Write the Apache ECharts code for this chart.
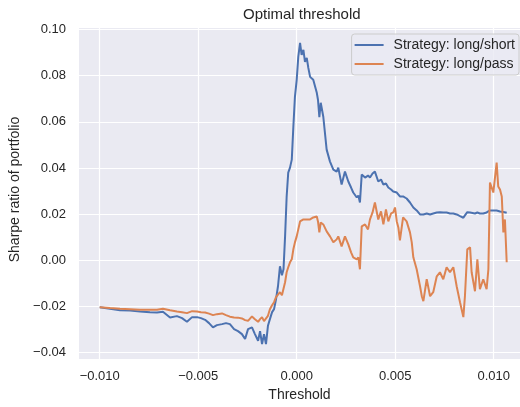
<!DOCTYPE html>
<html>
<head>
<meta charset="utf-8">
<script src="https://cdn.jsdelivr.net/npm/echarts@6/dist/echarts.min.js"></script>
<style>
  html, body { margin: 0; padding: 0; background: #fff; }
  #main { width: 520px; height: 407px; }
</style>
</head>
<body>
<div id="main"></div>
<script>
// thresholds
var thresholds = [
  -0.01000, -0.00948, -0.00897, -0.00846, -0.00795, -0.00745, -0.00709, -0.00679, -0.00643, -0.00608,
  -0.00582, -0.00557, -0.00531, -0.00506, -0.00486, -0.00465, -0.00445, -0.00425, -0.00405, -0.00379,
  -0.00359, -0.00339, -0.00318, -0.00298, -0.00278, -0.00262, -0.00247, -0.00227, -0.00212, -0.00196,
  -0.00186, -0.00176, -0.00166, -0.00156, -0.00146, -0.00136, -0.00125, -0.00115, -0.00105, -0.00095,
  -0.00085, -0.00075, -0.00067, -0.00059, -0.00051, -0.00043, -0.00034, -0.00025, -0.00017, -0.00009,
  0.00000, 0.00008, 0.00017, 0.00025, 0.00034, 0.00042, 0.00051, 0.00059, 0.00068, 0.00084,
  0.00102, 0.00108, 0.00115, 0.00122, 0.00135, 0.00152, 0.00169, 0.00186, 0.00203, 0.00211,
  0.00228, 0.00245, 0.00262, 0.00276, 0.00287, 0.00305, 0.00313, 0.00321, 0.00330, 0.00347,
  0.00362, 0.00372, 0.00385, 0.00397, 0.00414, 0.00428, 0.00440, 0.00453, 0.00465, 0.00479,
  0.00490, 0.00499, 0.00508, 0.00516, 0.00524, 0.00540, 0.00558, 0.00575, 0.00584, 0.00592,
  0.00609, 0.00626, 0.00635, 0.00643, 0.00660, 0.00677, 0.00693, 0.00711, 0.00727, 0.00744,
  0.00761, 0.00778, 0.00795, 0.00812, 0.00829, 0.00846, 0.00854, 0.00866, 0.00880, 0.00888,
  0.00905, 0.00917, 0.00930, 0.00947, 0.00964, 0.00973, 0.00981, 0.00990, 0.00998, 0.01015,
  0.01023, 0.01032, 0.01041, 0.01049, 0.01057, 0.01066
];

var longShort = [
  -0.0203, -0.02095, -0.0216, -0.0218, -0.02216, -0.02246, -0.02259, -0.02225, -0.02475, -0.02419,
  -0.02505, -0.02665, -0.02462, -0.02462, -0.02505, -0.02579, -0.02721, -0.02907, -0.02808, -0.02765,
  -0.02721, -0.02765, -0.02981, -0.03067, -0.03197, -0.03413, -0.02981, -0.02907, -0.03197, -0.03486,
  -0.03067, -0.03629, -0.03197, -0.03629, -0.02838, -0.02549, -0.02246, -0.02117, -0.01685, -0.01123,
  -0.00259, -0.00648, -0.00389, 0.01037, 0.02765, 0.03801, 0.04017, 0.04363, 0.05788, 0.07084,
  0.07819, 0.08812, 0.09417, 0.08898, 0.09114, 0.08596, 0.08769, 0.08337, 0.07948, 0.07819,
  0.07257, 0.06955, 0.06200, 0.06825, 0.0622, 0.04795, 0.04276, 0.03931, 0.03844, 0.04017,
  0.03283, 0.03844, 0.03413, 0.03153, 0.02937, 0.02721, 0.02808, 0.02505, 0.03715, 0.03585,
  0.03672, 0.03585, 0.03758, 0.03844, 0.03413, 0.03499, 0.03283, 0.03326, 0.03153, 0.03067,
  0.02981, 0.03067, 0.02937, 0.02851, 0.02765, 0.02765, 0.02678, 0.02505, 0.02419, 0.02289,
  0.0216, 0.01987, 0.0203, 0.01987, 0.0203, 0.01987, 0.0203, 0.02073, 0.02086, 0.02073,
  0.02073, 0.0203, 0.0203, 0.01987, 0.01914, 0.01844, 0.01944, 0.02086, 0.02073, 0.02073,
  0.0203, 0.02073, 0.0203, 0.0203, 0.02073, 0.02117, 0.0216, 0.0216, 0.0216, 0.0216,
  0.02138, 0.02117, 0.02117, 0.02095, 0.02073, 0.0206
];

var longPass = [
  -0.0203, -0.02065, -0.02095, -0.02117, -0.02147, -0.02147, -0.02138, -0.02095, -0.0216, -0.02216,
  -0.02246, -0.02289, -0.02203, -0.02216, -0.02246, -0.02259, -0.0231, -0.02376, -0.02333, -0.02302,
  -0.02376, -0.02441, -0.02475, -0.02484, -0.02518, -0.02592, -0.02622, -0.02432, -0.02549, -0.02665,
  -0.02549, -0.02462, -0.02635, -0.02691, -0.02406, -0.02117, -0.01944, -0.01814, -0.01598, -0.01512,
  -0.01382, -0.01512, -0.01542, -0.0095, -0.00518, -0.00302, -0.00086, 0.00043, 0.00475, 0.00778,
  0.01037, 0.01339, 0.01685, 0.01728, 0.01771, 0.01814, 0.01771, 0.01857, 0.01771, 0.01857,
  0.01901, 0.01685, 0.0121, 0.01641, 0.01555, 0.01253, 0.01037, 0.00778, 0.00907, 0.01037,
  0.00605, 0.01037, 0.00691, 0.00346, 0.0013, 0.00043, 0.0013, -0.00389, 0.01469, 0.01555,
  0.01339, 0.01771, 0.02073, 0.02505, 0.01771, 0.02117, 0.01555, 0.0220, 0.01685, 0.0203,
  0.02073, 0.02289, 0.01685, 0.01425, 0.00864, 0.01857, 0.01685, 0.0121, 0.00778, 0.0013,
  -0.00389, -0.01123, -0.01555, -0.01771, -0.00821, -0.01555, -0.01382, -0.00691, -0.00518, -0.00821,
  -0.00302, -0.00518, -0.00302, -0.01123, -0.01814, -0.02462, -0.01555, 0.00475, 0.00562, -0.00518,
  -0.01339, 0.00043, -0.01253, -0.00821, -0.01253, -0.00389, 0.03369, 0.03413, 0.02937, 0.04233,
  0.03197, 0.03067, 0.02765, 0.0121, 0.01771, -0.00086
];

var xTicks = [-0.01, -0.005, 0, 0.005, 0.01];
var yTicks = [-0.04, -0.02, 0, 0.02, 0.04, 0.06, 0.08, 0.1];

var font = 'Liberation Sans, Arial, sans-serif';
var textColor = '#262626';

function fmt(v, d) {
  var s = Math.abs(v).toFixed(d);
  return (v < -1e-12 ? '\u2212' : '') + s;
}

function pairs(ys) {
  return thresholds.map(function (x, i) { return [x, ys[i]]; });
}

var chart = echarts.init(document.getElementById('main'), null, { renderer: 'canvas' });

var option = {
  animation: false,
  backgroundColor: '#ffffff',
  textStyle: { fontFamily: font, color: textColor },
  title: {
    text: 'Optimal threshold',
    left: 243,
    top: 7,
    padding: 0,
    textStyle: { fontFamily: font, fontSize: 15, fontWeight: 'normal', color: textColor }
  },
  legend: {
    orient: 'vertical',
    right: 1,
    top: 34,
    padding: [3, 4, 3, 3],
    itemGap: 3,
    itemWidth: 29,
    itemHeight: 2,
    icon: 'rect',
    backgroundColor: 'rgba(234,234,242,0.8)',
    borderColor: '#cccccc',
    borderWidth: 1,
    borderRadius: 3,
    textStyle: { fontFamily: font, fontSize: 14, color: textColor, lineHeight: 16, padding: [0, 0, 0, 5] },
    data: ['Strategy: long/short', 'Strategy: long/pass']
  },
  grid: {
    left: 79,
    right: 0,
    top: 28,
    bottom: 47,
    show: true,
    backgroundColor: '#EAEAF2',
    borderWidth: 0
  },
  xAxis: {
    type: 'value',
    min: -0.011051,
    max: 0.011335,
    name: 'Threshold',
    nameLocation: 'middle',
    nameGap: 29,
    nameTextStyle: { fontFamily: font, fontSize: 14, color: textColor },
    axisLine: { show: false },
    axisTick: { show: false, customValues: xTicks },
    axisLabel: {
      customValues: xTicks,
      margin: 11,
      fontFamily: font,
      fontSize: 13,
      color: textColor,
      formatter: function (v) { return fmt(v, 3); }
    },
    splitLine: { show: true, lineStyle: { color: '#ffffff', width: 1.2 } }
  },
  yAxis: {
    type: 'value',
    min: -0.04276,
    max: 0.10065,
    name: 'Sharpe ratio of portfolio',
    nameLocation: 'middle',
    nameGap: 47,
    nameTextStyle: { fontFamily: font, fontSize: 14, color: textColor, padding: [0, 0, 0, 8] },
    axisLine: { show: false },
    axisTick: { show: false, customValues: yTicks },
    axisLabel: {
      customValues: yTicks,
      margin: 13,
      fontFamily: font,
      fontSize: 13,
      color: textColor,
      formatter: function (v) { return fmt(v, 2); }
    },
    splitLine: { show: true, lineStyle: { color: '#ffffff', width: 1.2 } }
  },
  series: [
    {
      name: 'Strategy: long/short',
      type: 'line',
      data: pairs(longShort),
      showSymbol: false,
      symbol: 'none',
      color: '#4C72B0',
      lineStyle: { color: '#4C72B0', width: 2 }
    },
    {
      name: 'Strategy: long/pass',
      type: 'line',
      data: pairs(longPass),
      showSymbol: false,
      symbol: 'none',
      color: '#DD8452',
      lineStyle: { color: '#DD8452', width: 2 }
    }
  ]
};

option && chart.setOption(option);
</script>
</body>
</html>
